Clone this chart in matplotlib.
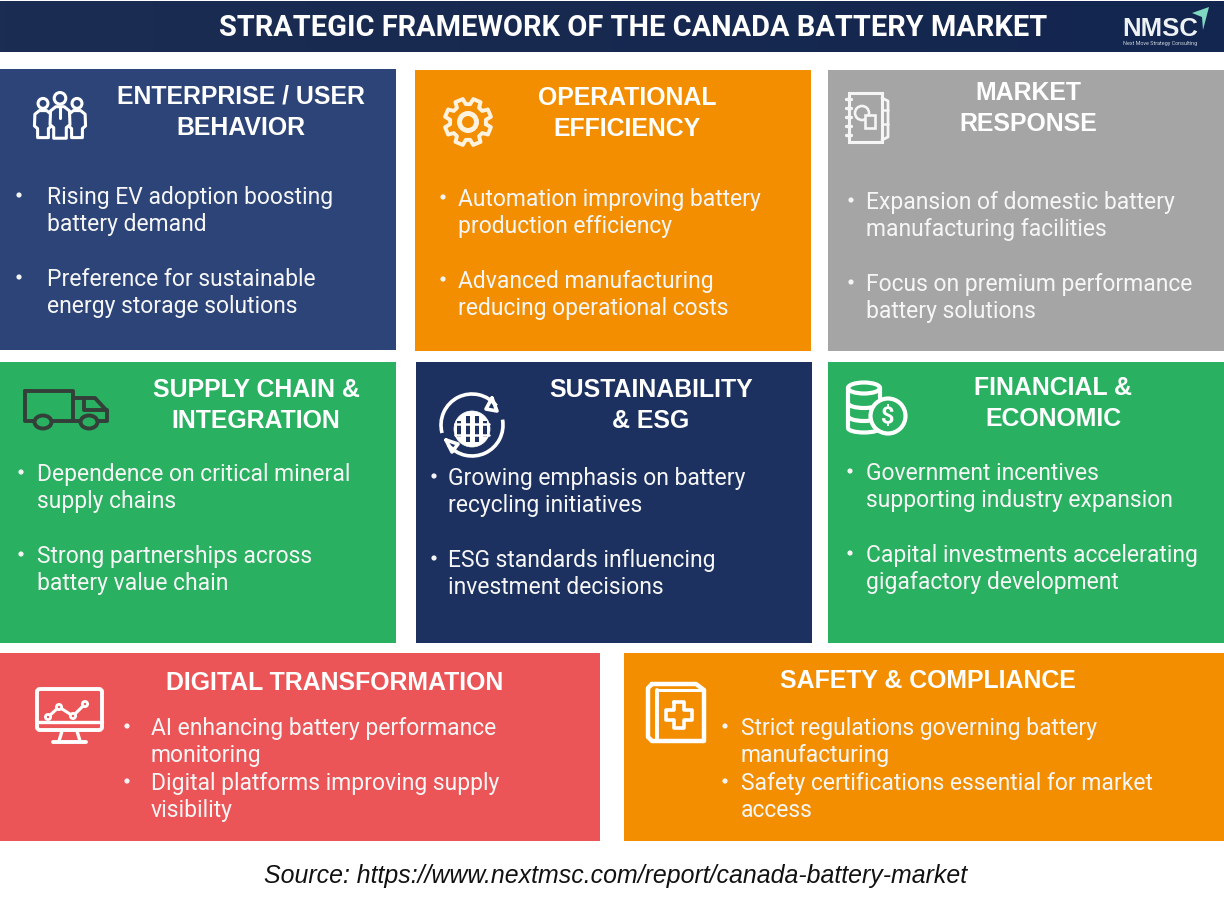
import numpy as np
import matplotlib
matplotlib.use("Agg")
import matplotlib.pyplot as plt
from matplotlib.patches import Rectangle, Circle, Ellipse, FancyBboxPatch, Polygon, Arc
from matplotlib.colors import LinearSegmentedColormap

plt.rcParams['font.family'] = ['Roboto', 'DejaVu Sans']

TITLE = "STRATEGIC FRAMEWORK OF THE CANADA BATTERY MARKET"
SOURCE = "Source: https://www.nextmsc.com/report/canada-battery-market"

headings = [
    "ENTERPRISE / USER\nBEHAVIOR", "OPERATIONAL\nEFFICIENCY", "MARKET\nRESPONSE",
    "SUPPLY CHAIN &\nINTEGRATION", "SUSTAINABILITY\n& ESG", "FINANCIAL &\nECONOMIC",
    "DIGITAL TRANSFORMATION", "SAFETY & COMPLIANCE",
]
bullets = [
    ["Rising EV adoption boosting\nbattery demand", "Preference for sustainable\nenergy storage solutions"],
    ["Automation improving battery\nproduction efficiency", "Advanced manufacturing\nreducing operational costs"],
    ["Expansion of domestic battery\nmanufacturing facilities", "Focus on premium performance\nbattery solutions"],
    ["Dependence on critical mineral\nsupply chains", "Strong partnerships across\nbattery value chain"],
    ["Growing emphasis on battery\nrecycling initiatives", "ESG standards influencing\ninvestment decisions"],
    ["Government incentives\nsupporting industry expansion", "Capital investments accelerating\ngigafactory development"],
    ["AI enhancing battery performance\nmonitoring", "Digital platforms improving supply\nvisibility"],
    ["Strict regulations governing battery\nmanufacturing", "Safety certifications essential for market\naccess"],
]
BLUE, ORANGE, GREY, GREEN, NAVY, RED = "#2c4478", "#f28e00", "#a5a5a5", "#29b060", "#1c3160", "#ec5558"
colors = [BLUE, ORANGE, GREY, GREEN, NAVY, GREEN, RED, ORANGE]

# x0, y0, x1, y1
boxes = [(0, 69, 396, 350), (415, 70, 811, 351), (828, 70, 1224, 351),
         (0, 362, 396, 643), (416, 362, 812, 643), (828, 362, 1224, 643),
         (0, 653, 600, 841), (624, 653, 1224, 841)]
head_xy = [(241, 112.5), (627, 113.5), (1028, 108.5), (256, 405.5), (651, 405.5), (1053, 403.5), (335, 683), (928, 681)]
# bullet-dot x, text x, y of first line of each bullet
text_xy = [(19, 47, (197, 279)), (443, 458, (199, 281)), (851, 866, (202, 284)),
           (21, 37, (474, 556)), (434, 448, (478, 560)), (850, 866, (473, 555)),
           (127, 151, (728, 783)), (725, 741, (728, 783))]

fig = plt.figure(figsize=(12.24, 9.05), dpi=100, facecolor="white")
ax = fig.add_axes([0, 0, 1, 1])

# Header band
grad = np.linspace(0, 1, 256).reshape(1, -1)
cm = LinearSegmentedColormap.from_list("h", ["#1b2d52", "#17294f", "#13264f"])
ax.imshow(grad, extent=(0, 1224, 52, 1), cmap=cm, aspect="auto", zorder=1)
ax.set_xlim(0, 1224)
ax.set_ylim(905, 0)
ax.axis("off")
ax.text(633, 28, TITLE, color="white", fontsize=20.9, fontweight="bold", ha="center", va="center", zorder=3)

# Logo
ax.text(1160, 28.5, "NMSC", color="#eef2f5", fontsize=18.5, fontweight="bold", ha="center", va="center",
        family="Liberation Sans", zorder=3)
ax.text(1160, 44, "Next Move Strategy Consulting", color="#c9d2dc", fontsize=3.9, ha="center", va="center", zorder=3)
ax.add_patch(Polygon([(1192, 13), (1209, 7), (1203, 30), (1202, 17)], closed=True, fc="#7ed9c0", ec="none", zorder=4))

for (x0, y0, x1, y1), c in zip(boxes, colors):
    ax.add_patch(Rectangle((x0, y0), x1 - x0, y1 - y0, fc=c, ec="none", zorder=1))

for h, (hx, hy) in zip(headings, head_xy):
    ax.text(hx, hy, h, color="white", fontsize=17.9, fontweight="bold", ha="center", va="center",
            family="Liberation Sans", linespacing=1.38, zorder=3)

for items, (dx, tx, ys) in zip(bullets, text_xy):
    for it, y in zip(items, ys):
        ax.add_patch(Circle((dx, y - 2), 2.6, fc="#f4f4f4", ec="none", zorder=3))
        for k, line_text in enumerate(it.split("\n")):
            ax.text(tx, y + k * 27.5, line_text, color="#f6f6f6", fontsize=16.5, ha="left", va="center", zorder=3)


def line(pts, c="white", lw=2.6, closed=False, z=4):
    pts = list(pts)
    if closed:
        pts.append(pts[0])
    ax.plot(*zip(*pts), color=c, lw=lw, solid_capstyle="round", solid_joinstyle="round", zorder=z)


def circ(x, y, r, c="white", lw=2.6, fc="none", z=4):
    ax.add_patch(Circle((x, y), r, fc=fc, ec=c, lw=lw, zorder=z))


def person(cx, top, s, bg):
    circ(cx, top + 6 * s, 5.5 * s, lw=2.2)
    verts = [(cx - 4 * s, top + 14 * s), (cx - 9 * s, top + 18 * s), (cx - 9.5 * s, top + 31 * s),
             (cx - 6 * s, top + 34 * s), (cx - 6 * s, top + 44 * s), (cx + 6 * s, top + 44 * s),
             (cx + 6 * s, top + 34 * s), (cx + 9.5 * s, top + 31 * s), (cx + 9 * s, top + 18 * s),
             (cx + 4 * s, top + 14 * s)]
    ax.add_patch(Polygon(verts, closed=True, fc=bg, ec="white", lw=2.2, joinstyle="round", zorder=4))


# People icon
person(43, 98, 0.9, BLUE)
person(77, 98, 0.9, BLUE)
person(60, 92, 1.05, BLUE)
line([(60, 108), (60, 118)], lw=2.2)

# Gear icon
th = np.linspace(0, 2 * np.pi, 8, endpoint=False) + np.pi / 8
gear = []
for t in th:
    for off, r in [(-0.27, 18), (-0.17, 23.5), (0.17, 23.5), (0.27, 18)]:
        gear.append((468 + r * np.cos(t + off), 122 + r * np.sin(t + off)))
line(gear, lw=2.8, closed=True, c="#fff3e0")
circ(468, 122, 8.5, lw=3.6, c="#fff3e0")

# Notebook icon
NB = "#f5f5f5"
ax.add_patch(Rectangle((849, 93), 33, 49, fc="none", ec=NB, lw=2.2, zorder=4))
for y in (99, 108, 117, 126, 135):
    line([(846, y), (851, y)], c=NB, lw=2.4)
line([(882, 98), (888, 101), (888, 137), (882, 140)], c=NB, lw=2)
for y in (110, 124):
    line([(882, y), (888, y)], c=NB, lw=1.8)
circ(862, 113, 7, c=NB, lw=1.9)
ax.add_patch(Rectangle((865, 115), 10, 13, fc=GREY, ec=NB, lw=1.9, zorder=4))

# Truck icon
TK = "#333f38"
line([(25, 391), (73, 391), (73, 421), (25, 421)], c=TK, lw=2.8, closed=True)
line([(73, 398), (95, 398), (107, 411), (107, 421), (73, 421)], c=TK, lw=2.8)
line([(84, 398), (84, 410), (107, 410)], c=TK, lw=2.8)
ax.add_patch(Ellipse((43, 422), 17, 13, fc=GREEN, ec=TK, lw=2.8, zorder=4))
ax.add_patch(Ellipse((89, 422), 17, 13, fc=GREEN, ec=TK, lw=2.8, zorder=4))

# Globe and arrows icon
circ(472, 429, 18, fc="white", c="white", lw=0.5)
for dx in (-13, -4.5, 4.5, 13):
    ax.add_patch(Rectangle((472 + dx - 2, 429 - (15 - abs(dx) * 0.55)), 4, 2 * (15 - abs(dx) * 0.55),
                           fc=NAVY, ec="none", zorder=5))
for dy in (-5.5, 5.5):
    line([(455, 429 + dy), (489, 429 + dy)], c="white", lw=1.8, z=6)
ax.add_patch(Arc((472, 425), 62, 62, theta1=165, theta2=322, color="white", lw=2.6, zorder=4))
ax.add_patch(Arc((472, 425), 62, 62, theta1=350, theta2=140, color="white", lw=2.6, zorder=4))
line([(492, 398), (497, 411), (486, 409)], closed=True, lw=2.6)
line([(446, 440), (452, 452), (458, 444)], closed=True, lw=2.6)

# Coins icon
for y in (402, 415):
    ax.add_patch(Arc((864, y + 1), 32, 10, theta1=0, theta2=180, color="white", lw=3, zorder=4))
ax.add_patch(Ellipse((864, 388), 32, 11, fc=GREEN, ec="white", lw=3, zorder=4))
line([(848, 388), (848, 427)], lw=3)
line([(880, 388), (880, 398)], lw=3)
ax.add_patch(Arc((864, 428), 32, 9, theta1=0, theta2=180, color="white", lw=3, zorder=4))
circ(888, 416, 17.5, fc=GREEN, lw=3)
ax.text(888, 416.5, "$", color="white", fontsize=17, fontweight="bold", ha="center", va="center", zorder=5)

# Monitor icon
ax.add_patch(FancyBboxPatch((37, 689), 65, 41, boxstyle="round,pad=0,rounding_size=3", fc="none", ec="white", lw=2.8, zorder=4))
line([(37, 722), (102, 722)], lw=2.4)
line([(62, 731), (59, 741)], lw=2.4)
line([(77, 731), (80, 741)], lw=2.4)
line([(53, 742), (86, 742)], lw=2.8)
pts = [(48, 717), (59, 707), (73, 716), (85, 704)]
line(pts, lw=2.2)
for p in pts:
    circ(p[0], p[1], 2.6, fc=RED, lw=2)

# Medical book icon
line([(652, 684), (696, 684), (704, 690), (704, 741), (652, 741), (648, 737), (648, 688)], closed=True, lw=3.2)
line([(657, 690), (657, 741)], lw=2.8)
line([(657, 690), (704, 690)], lw=2.2)
a, b = 5, 13
cx, cy = 679, 715
cross = [(cx - a, cy - b), (cx + a, cy - b), (cx + a, cy - a), (cx + b, cy - a), (cx + b, cy + a), (cx + a, cy + a),
         (cx + a, cy + b), (cx - a, cy + b), (cx - a, cy + a), (cx - b, cy + a), (cx - b, cy - a), (cx - a, cy - a)]
line(cross, lw=2.6, closed=True)

ax.text(616, 875.5, SOURCE, color="#111111", fontsize=17.9, style="italic", ha="center", va="center",
        family="Liberation Sans", zorder=3)

fig.savefig("out.png", dpi=100, facecolor="white")
